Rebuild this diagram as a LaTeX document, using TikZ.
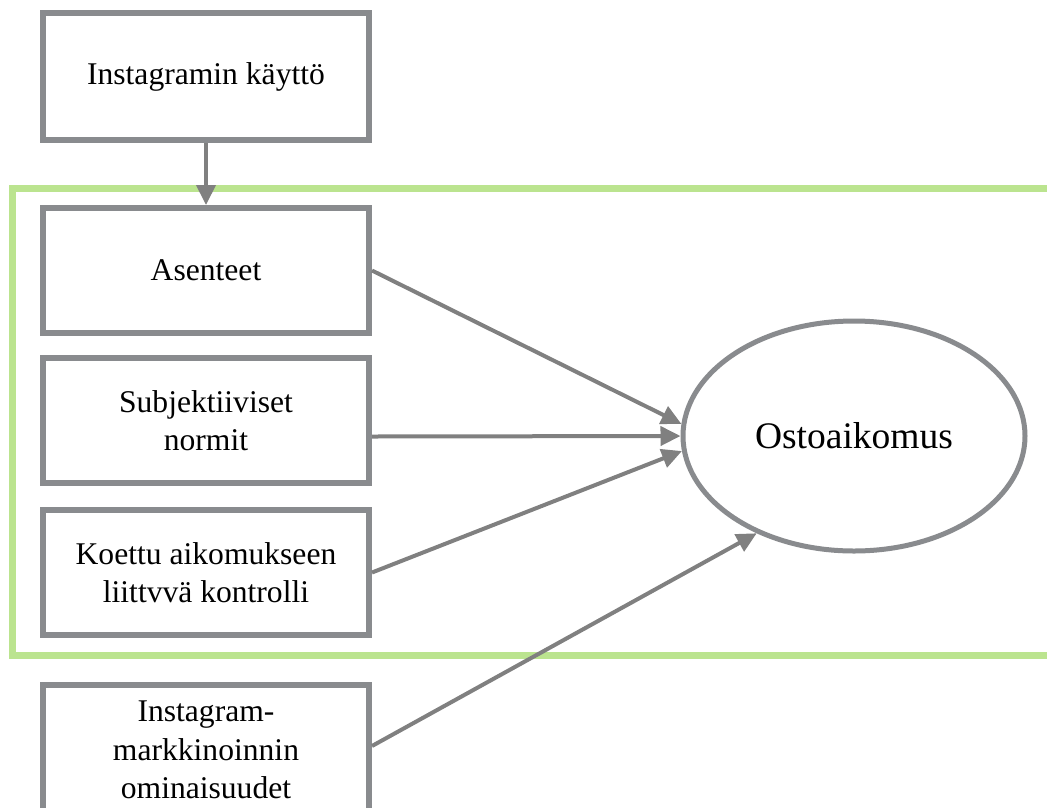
\documentclass[tikz,border=0pt]{standalone}
\usepackage{fontspec}
\setmainfont{Liberation Serif}
\usetikzlibrary{arrows.meta,shapes.geometric,calc}
\definecolor{boxgray}{RGB}{137,139,142}
\definecolor{arrowgray}{RGB}{128,128,128}
\definecolor{framegreen}{RGB}{187,228,143}
\begin{document}
\begin{tikzpicture}[x=1pt,y=-1pt,
  box/.style={draw=boxgray,line width=6pt,minimum width=326pt,minimum height=125pt,inner sep=0pt,align=center,fill=white,font=\fontsize{31.6}{38.5}\selectfont},
  oval/.style={draw=boxgray,line width=5pt,ellipse,minimum width=342pt,minimum height=230pt,inner sep=0pt,fill=white,font=\fontsize{37.5}{45}\selectfont},
  conn/.style={draw=arrowgray,line width=4pt,-{Triangle[length=20pt,width=19pt]}}]
\useasboundingbox (0,0) rectangle (1047,807);
\clip (0,0) rectangle (1047,807);
\draw[draw=framegreen,line width=7pt] (12,188) rectangle (1100,655);
\node[box,minimum height=127pt] (use) at (206,76.5) {Instagramin käyttö};
\node[box] (ase) at (206,270.5) {Asenteet};
\node[box] (sub) at (206,420.5) {Subjektiiviset\\normit};
\node[box] (koe) at (206,572.5) {Koettu aikomukseen\\liittvvä kontrolli};
\node[box,minimum height=130pt] (ins) at (206,750) {Instagram-\\markkinoinnin\\ominaisuudet};
\node[oval] (ost) at (854,436) {Ostoaikomus};
\draw[conn] (use) -- (ase);
\draw[conn] (ase.east) -- (ost.176.7);
\draw[conn] ($(sub.east)+(0,16)$) -- (ost.west);
\draw[conn] (koe.east) -- (ost.185.7);
\draw[conn] ($(ins.east)+(0,-4)$) -- (ost.225.6);
\end{tikzpicture}
\end{document}
